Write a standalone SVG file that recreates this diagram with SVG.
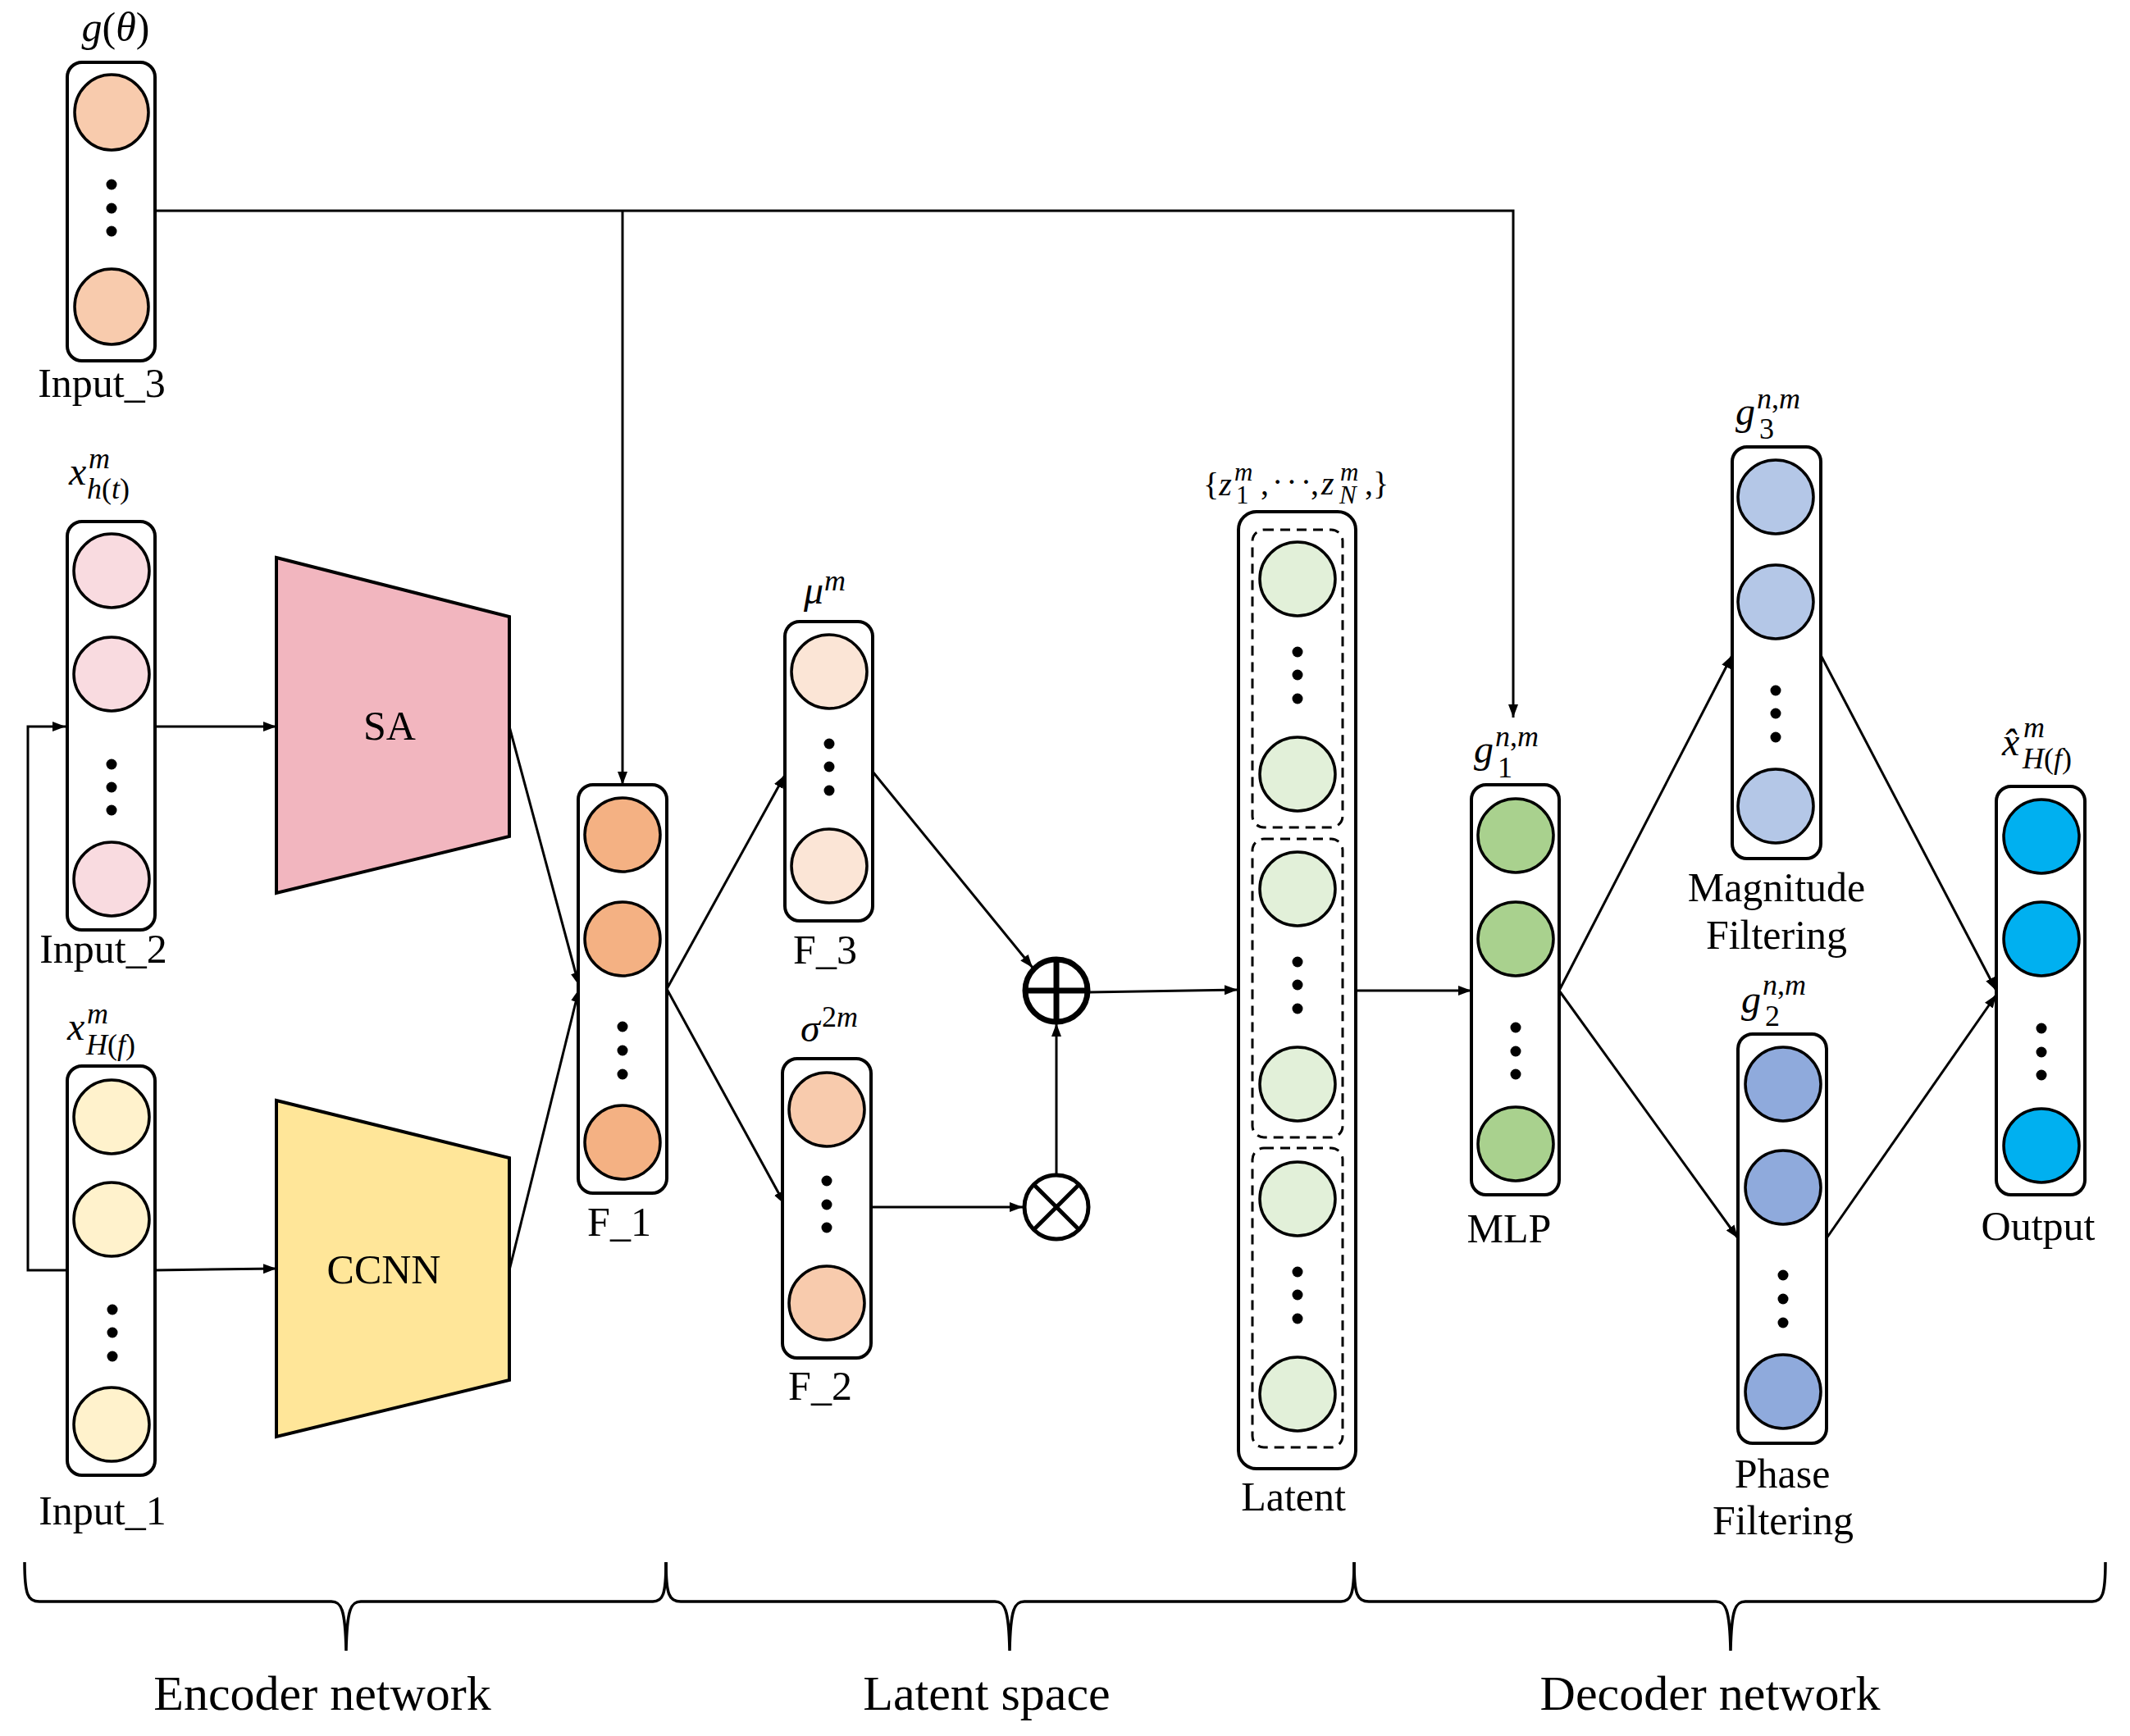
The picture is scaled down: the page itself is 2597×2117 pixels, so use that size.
<svg xmlns="http://www.w3.org/2000/svg" width="2597" height="2117" viewBox="0 0 2597 2117">
<style>
.box{fill:#fff;stroke:#000;stroke-width:4}
.c{stroke:#000;stroke-width:3.5}
.dot{fill:#000}
.dash{fill:none;stroke:#000;stroke-width:3;stroke-dasharray:12 8}
.ln{fill:none;stroke:#000;stroke-width:3}
.lbl{font-family:"Liberation Serif","Times New Roman",serif;font-size:50px;fill:#000;text-anchor:middle}
.big{font-family:"Liberation Serif","Times New Roman",serif;font-size:60px;fill:#000;text-anchor:middle}
.m{font-family:"Liberation Serif","Times New Roman",serif;font-style:italic;font-size:48px;fill:#000}
.sc{font-size:36px}
.sz{font-size:31px}
.u{font-style:normal}
.brace{fill:none;stroke:#000;stroke-width:3.5}
</style>
<defs>
<marker id="ah" markerWidth="18" markerHeight="14" refX="16" refY="7" orient="auto" markerUnits="userSpaceOnUse">
<path d="M0,1 L16,7 L0,13 z" fill="#000"/>
</marker>
</defs>
<rect width="2597" height="2117" fill="#fff"/>

<g id="connectors">
<polyline class="ln" points="189,257 1845,257 1845,875" marker-end="url(#ah)"/>
<line class="ln" x1="759" y1="257" x2="759" y2="957" marker-end="url(#ah)"/>
<polyline class="ln" points="80,1549 34,1549 34,886 80,886" marker-end="url(#ah)"/>
<line class="ln" x1="189" y1="886" x2="337" y2="886" marker-end="url(#ah)"/>
<line class="ln" x1="189" y1="1549" x2="337" y2="1547" marker-end="url(#ah)"/>
<line class="ln" x1="621" y1="886" x2="706" y2="1202" marker-end="url(#ah)"/>
<line class="ln" x1="621" y1="1549" x2="706" y2="1206" marker-end="url(#ah)"/>
<line class="ln" x1="813" y1="1206" x2="957" y2="945" marker-end="url(#ah)"/>
<line class="ln" x1="813" y1="1206" x2="957" y2="1469" marker-end="url(#ah)"/>
<line class="ln" x1="1064" y1="941" x2="1259" y2="1180" marker-end="url(#ah)"/>
<line class="ln" x1="1062" y1="1472" x2="1247" y2="1472" marker-end="url(#ah)"/>
<line class="ln" x1="1288" y1="1432" x2="1288" y2="1248" marker-end="url(#ah)"/>
<line class="ln" x1="1328" y1="1210" x2="1509" y2="1207" marker-end="url(#ah)"/>
<line class="ln" x1="1653" y1="1208" x2="1794" y2="1208" marker-end="url(#ah)"/>
<line class="ln" x1="1901" y1="1208" x2="2112" y2="799" marker-end="url(#ah)"/>
<line class="ln" x1="1901" y1="1208" x2="2119" y2="1510" marker-end="url(#ah)"/>
<line class="ln" x1="2220" y1="799" x2="2434" y2="1208" marker-end="url(#ah)"/>
<line class="ln" x1="2227" y1="1510" x2="2434" y2="1213" marker-end="url(#ah)"/>
</g>

<g id="input3">
<rect class="box" x="82" y="76" width="107" height="364" rx="18"/>
<ellipse class="c" cx="136" cy="137" rx="45" ry="46" fill="#F8CBAD"/>
<circle class="dot" cx="136" cy="225" r="6.5"/><circle class="dot" cx="136" cy="254" r="6.5"/><circle class="dot" cx="136" cy="282" r="6.5"/>
<ellipse class="c" cx="136" cy="374" rx="45" ry="46" fill="#F8CBAD"/>
<text class="m" x="141" y="50" text-anchor="middle" style="font-size:50px">g<tspan class="u">(</tspan>θ<tspan class="u">)</tspan></text>
<text class="lbl" x="124" y="484">Input_3</text>
</g>

<g id="input2">
<rect class="box" x="82" y="636" width="107" height="498" rx="18"/>
<ellipse class="c" cx="136" cy="696" rx="46" ry="45" fill="#F9DBE0"/>
<ellipse class="c" cx="136" cy="822" rx="46" ry="45" fill="#F9DBE0"/>
<circle class="dot" cx="136" cy="932" r="6.5"/><circle class="dot" cx="136" cy="960" r="6.5"/><circle class="dot" cx="136" cy="988" r="6.5"/>
<ellipse class="c" cx="136" cy="1072" rx="46" ry="45" fill="#F9DBE0"/>
<text class="m" x="84" y="591">x<tspan class="sc" x="108" y="571">m</tspan><tspan class="sc" x="106" y="608">h<tspan class="u">(</tspan>t<tspan class="u">)</tspan></tspan></text>
<text class="lbl" x="126" y="1174">Input_2</text>
</g>

<g id="input1">
<rect class="box" x="82" y="1300" width="107" height="499" rx="18"/>
<ellipse class="c" cx="136" cy="1362" rx="46" ry="45" fill="#FFF2CC"/>
<ellipse class="c" cx="136" cy="1487" rx="46" ry="45" fill="#FFF2CC"/>
<circle class="dot" cx="137" cy="1597" r="6.5"/><circle class="dot" cx="137" cy="1625" r="6.5"/><circle class="dot" cx="137" cy="1654" r="6.5"/>
<ellipse class="c" cx="136" cy="1737" rx="46" ry="45" fill="#FFF2CC"/>
<text class="m" x="82" y="1268">x<tspan class="sc" x="106" y="1248">m</tspan><tspan class="sc" x="105" y="1286">H<tspan class="u">(</tspan>f<tspan class="u">)</tspan></tspan></text>
<text class="lbl" x="125" y="1859">Input_1</text>
</g>

<g id="sa">
<polygon points="337,680 621,752 621,1020 337,1089" fill="#F2B6BF" stroke="#000" stroke-width="4"/>
<text class="lbl" x="475" y="902">SA</text>
</g>

<g id="ccnn">
<polygon points="337,1342 621,1412 621,1683 337,1752" fill="#FFE699" stroke="#000" stroke-width="4"/>
<text class="lbl" x="468" y="1565">CCNN</text>
</g>

<g id="f1">
<rect class="box" x="705" y="957" width="108" height="498" rx="18"/>
<ellipse class="c" cx="759" cy="1018" rx="46" ry="45" fill="#F4B183"/>
<ellipse class="c" cx="759" cy="1145" rx="46" ry="45" fill="#F4B183"/>
<circle class="dot" cx="759" cy="1252" r="6.5"/><circle class="dot" cx="759" cy="1281" r="6.5"/><circle class="dot" cx="759" cy="1310" r="6.5"/>
<ellipse class="c" cx="759" cy="1393" rx="46" ry="45" fill="#F4B183"/>
<text class="lbl" x="755" y="1507">F_1</text>
</g>

<g id="f3">
<rect class="box" x="957" y="758" width="107" height="365" rx="18"/>
<ellipse class="c" cx="1011" cy="819" rx="46" ry="45" fill="#FBE5D6"/>
<circle class="dot" cx="1011" cy="907" r="6.5"/><circle class="dot" cx="1011" cy="935" r="6.5"/><circle class="dot" cx="1011" cy="964" r="6.5"/>
<ellipse class="c" cx="1011" cy="1056" rx="46" ry="45" fill="#FBE5D6"/>
<text class="m" x="980" y="736">μ<tspan class="sc" x="1005" y="720">m</tspan></text>
<text class="lbl" x="1006" y="1175">F_3</text>
</g>

<g id="f2">
<rect class="box" x="954" y="1291" width="108" height="365" rx="18"/>
<ellipse class="c" cx="1008" cy="1353" rx="46" ry="45" fill="#F8CBAD"/>
<circle class="dot" cx="1008" cy="1440" r="6.5"/><circle class="dot" cx="1008" cy="1469" r="6.5"/><circle class="dot" cx="1008" cy="1497" r="6.5"/>
<ellipse class="c" cx="1008" cy="1589" rx="46" ry="45" fill="#F8CBAD"/>
<text class="m" x="976" y="1270">σ<tspan class="sc" x="1002" y="1252"><tspan class="u">2</tspan>m</tspan></text>
<text class="lbl" x="1000" y="1707">F_2</text>
</g>

<g id="plus">
<circle cx="1288" cy="1208" r="38" fill="#fff" stroke="#000" stroke-width="7"/>
<line x1="1250" y1="1208" x2="1326" y2="1208" stroke="#000" stroke-width="7"/>
<line x1="1288" y1="1170" x2="1288" y2="1246" stroke="#000" stroke-width="7"/>
</g>

<g id="times">
<circle cx="1288" cy="1472" r="39" fill="#fff" stroke="#000" stroke-width="5"/>
<line x1="1260.4" y1="1444.4" x2="1315.6" y2="1499.6" stroke="#000" stroke-width="5"/>
<line x1="1315.6" y1="1444.4" x2="1260.4" y2="1499.6" stroke="#000" stroke-width="5"/>
</g>

<g id="latent">
<rect class="box" x="1510" y="624" width="143" height="1167" rx="22"/>
<rect class="dash" x="1527" y="646" width="110" height="363" rx="14"/>
<rect class="dash" x="1527" y="1023" width="110" height="364" rx="14"/>
<rect class="dash" x="1527" y="1400" width="110" height="365" rx="14"/>
<ellipse class="c" cx="1582" cy="706" rx="46" ry="45" fill="#E2F0D9"/>
<circle class="dot" cx="1582" cy="795" r="6.5"/><circle class="dot" cx="1582" cy="823" r="6.5"/><circle class="dot" cx="1582" cy="852" r="6.5"/>
<ellipse class="c" cx="1582" cy="944" rx="46" ry="45" fill="#E2F0D9"/>
<ellipse class="c" cx="1582" cy="1084" rx="46" ry="45" fill="#E2F0D9"/>
<circle class="dot" cx="1582" cy="1173" r="6.5"/><circle class="dot" cx="1582" cy="1201" r="6.5"/><circle class="dot" cx="1582" cy="1230" r="6.5"/>
<ellipse class="c" cx="1582" cy="1322" rx="46" ry="45" fill="#E2F0D9"/>
<ellipse class="c" cx="1582" cy="1462" rx="46" ry="45" fill="#E2F0D9"/>
<circle class="dot" cx="1582" cy="1551" r="6.5"/><circle class="dot" cx="1582" cy="1579" r="6.5"/><circle class="dot" cx="1582" cy="1608" r="6.5"/>
<ellipse class="c" cx="1582" cy="1700" rx="46" ry="45" fill="#E2F0D9"/>
<text class="m" x="1467" y="604" style="font-size:40px"><tspan class="u">{</tspan>z<tspan class="sz" x="1505" y="586">m</tspan><tspan class="sz u" x="1507" y="614">1</tspan><tspan class="u" x="1537" y="603">,</tspan><tspan class="u" x="1551" y="601" letter-spacing="4">···</tspan><tspan class="u" x="1598" y="603">,</tspan><tspan x="1611" y="603">z</tspan><tspan class="sz" x="1634" y="586">m</tspan><tspan class="sz" x="1633" y="614">N</tspan><tspan class="u" x="1664" y="603">,}</tspan></text>
<text class="lbl" x="1577" y="1842">Latent</text>
</g>

<g id="mlp">
<rect class="box" x="1794" y="957" width="107" height="500" rx="18"/>
<ellipse class="c" cx="1848" cy="1019" rx="46" ry="45" fill="#A9D18E"/>
<ellipse class="c" cx="1848" cy="1145" rx="46" ry="45" fill="#A9D18E"/>
<circle class="dot" cx="1848" cy="1253" r="6.5"/><circle class="dot" cx="1848" cy="1282" r="6.5"/><circle class="dot" cx="1848" cy="1310" r="6.5"/>
<ellipse class="c" cx="1848" cy="1395" rx="46" ry="45" fill="#A9D18E"/>
<text class="m" x="1797" y="930">g<tspan class="sc" x="1823" y="910">n<tspan class="u">,</tspan>m</tspan><tspan class="sc u" x="1826" y="948">1</tspan></text>
<text class="lbl" x="1840" y="1515">MLP</text>
</g>

<g id="magnitude">
<rect class="box" x="2112" y="545" width="108" height="502" rx="18"/>
<ellipse class="c" cx="2165" cy="606" rx="46" ry="45" fill="#B4C7E7"/>
<ellipse class="c" cx="2165" cy="734" rx="46" ry="45" fill="#B4C7E7"/>
<circle class="dot" cx="2165" cy="842" r="6.5"/><circle class="dot" cx="2165" cy="870" r="6.5"/><circle class="dot" cx="2165" cy="899" r="6.5"/>
<ellipse class="c" cx="2165" cy="983" rx="46" ry="45" fill="#B4C7E7"/>
<text class="m" x="2116" y="518">g<tspan class="sc" x="2142" y="498">n<tspan class="u">,</tspan>m</tspan><tspan class="sc u" x="2145" y="535">3</tspan></text>
<text class="lbl" x="2166" y="1099">Magnitude</text>
<text class="lbl" x="2166" y="1157">Filtering</text>
</g>

<g id="phase">
<rect class="box" x="2119" y="1261" width="108" height="499" rx="18"/>
<ellipse class="c" cx="2174" cy="1322" rx="46" ry="45" fill="#8FAADC"/>
<ellipse class="c" cx="2174" cy="1448" rx="46" ry="45" fill="#8FAADC"/>
<circle class="dot" cx="2174" cy="1555" r="6.5"/><circle class="dot" cx="2174" cy="1584" r="6.5"/><circle class="dot" cx="2174" cy="1613" r="6.5"/>
<ellipse class="c" cx="2174" cy="1697" rx="46" ry="45" fill="#8FAADC"/>
<text class="m" x="2123" y="1235">g<tspan class="sc" x="2149" y="1213">n<tspan class="u">,</tspan>m</tspan><tspan class="sc u" x="2152" y="1251">2</tspan></text>
<text class="lbl" x="2173" y="1814">Phase</text>
<text class="lbl" x="2174" y="1871">Filtering</text>
</g>

<g id="output">
<rect class="box" x="2434" y="959" width="108" height="498" rx="18"/>
<ellipse class="c" cx="2489" cy="1020" rx="46" ry="45" fill="#00B0F0"/>
<ellipse class="c" cx="2489" cy="1145" rx="46" ry="45" fill="#00B0F0"/>
<circle class="dot" cx="2489" cy="1254" r="6.5"/><circle class="dot" cx="2489" cy="1283" r="6.5"/><circle class="dot" cx="2489" cy="1311" r="6.5"/>
<ellipse class="c" cx="2489" cy="1397" rx="46" ry="45" fill="#00B0F0"/>
<text class="m" x="2441" y="921">x̂<tspan class="sc" x="2467" y="899">m</tspan><tspan class="sc" x="2466" y="937">H<tspan class="u">(</tspan>f<tspan class="u">)</tspan></tspan></text>
<text class="lbl" x="2485" y="1512">Output</text>
</g>

<g id="braces">
<path class="brace" d="M30,1905 C30,1945 34,1953 48,1953 L404,1953 C416,1953 421,1962 422,2013 C423,1962 428,1953 440,1953 L796,1953 C808,1953 812,1945 812,1905"/>
<path class="brace" d="M812,1905 C812,1945 816,1953 830,1953 L1213,1953 C1225,1953 1230,1962 1231,2013 C1232,1962 1237,1953 1249,1953 L1635,1953 C1647,1953 1651,1945 1651,1905"/>
<path class="brace" d="M1651,1905 C1651,1945 1655,1953 1669,1953 L2092,1953 C2104,1953 2109,1962 2110,2013 C2111,1962 2116,1953 2128,1953 L2551,1953 C2563,1953 2567,1945 2567,1905"/>
<text class="big" x="393" y="2085">Encoder network</text>
<text class="big" x="1203" y="2085">Latent space</text>
<text class="big" x="2085" y="2085">Decoder network</text>
</g>
</svg>
